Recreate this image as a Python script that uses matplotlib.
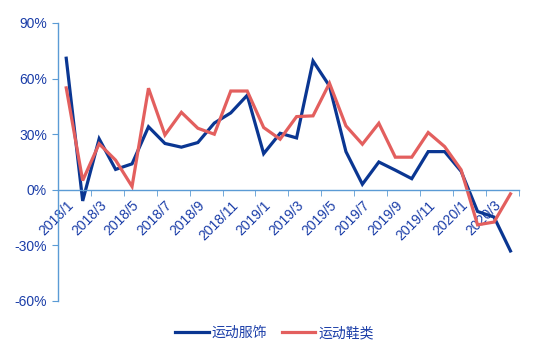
import matplotlib
matplotlib.use("Agg")
import matplotlib.pyplot as plt
from matplotlib.ticker import FixedLocator, FuncFormatter

plt.rcParams['font.family'] = ['Liberation Sans', 'Noto Sans CJK SC', 'DejaVu Sans']

months = [f"{y}/{m}" for y in (2018, 2019) for m in range(1, 13)] + ["2020/1", "2020/2", "2020/3", "2020/4"]
apparel = [71, -6, 27.5, 11, 14, 34, 25, 23, 25.5, 36, 41.5, 51,
           19.5, 30.5, 28, 69.5, 56, 20.6, 3, 15, 10.6, 6, 20.6, 20.6,
           10, -11.7, -14.7, -33]
footwear = [55, 5, 24.8, 16, 1.8, 54.8, 29.6, 41.8, 33.2, 30, 53.3, 53.3,
            33.6, 27.3, 39.5, 39.9, 57.5, 34.5, 24.6, 35.9, 17.6, 17.6, 30.9, 23.3,
            10.8, -18.9, -17.4, -2.2]
series_names = ["运动服饰", "运动鞋类"]
yticks = [-60, -30, 0, 30, 60, 90]

blue = "#0A3692"
red = "#E35F5E"
axis_col = "#5B9BD5"
text_col = "#1A3DA8"

fig = plt.figure(figsize=(5.36, 3.54), dpi=100)
ax = fig.add_axes([58/536, 1-301/354, (518.7-58)/536, (301-23)/354])

x = list(range(len(months)))
ax.plot(x, apparel, color=blue, lw=2.3, label=series_names[0], solid_joinstyle='miter')
ax.plot(x, footwear, color=red, lw=2.3, label=series_names[1], solid_joinstyle='miter')

ax.set_xlim(-0.5, len(months) - 0.5)
ax.set_ylim(-60, 90)

for s in ['top', 'right']:
    ax.spines[s].set_visible(False)
ax.spines['bottom'].set_position(('data', 0))
ax.spines['bottom'].set_color(axis_col)
ax.spines['left'].set_color(axis_col)
ax.spines['bottom'].set_linewidth(1.0)
ax.spines['left'].set_linewidth(1.0)

ax.set_yticks(yticks)
ax.yaxis.set_major_formatter(FuncFormatter(lambda v, p: f"{int(v)}%"))
ax.tick_params(axis='y', colors=axis_col, labelcolor=text_col, labelsize=10, length=4, direction='out', pad=4)

lab_pos = x[::2]
ax.set_xticks(lab_pos)
ax.set_xticklabels(months[::2], rotation=45, ha='right', rotation_mode='anchor')
ax.tick_params(axis='x', which='major', length=0, labelcolor=text_col, labelsize=10, pad=6)
ax.xaxis.set_minor_locator(FixedLocator([p - 0.5 for p in range(0, len(months) + 1, 2)]))
ax.tick_params(axis='x', which='minor', length=4, color=axis_col, direction='out')

fig.legend(loc='center', bbox_to_anchor=(274.5/536, 1-333/354), ncol=2, frameon=False,
           fontsize=10, handlelength=2.4, columnspacing=1.1, handletextpad=0.2,
           labelcolor=text_col)

fig.savefig("out.png", dpi=100)
